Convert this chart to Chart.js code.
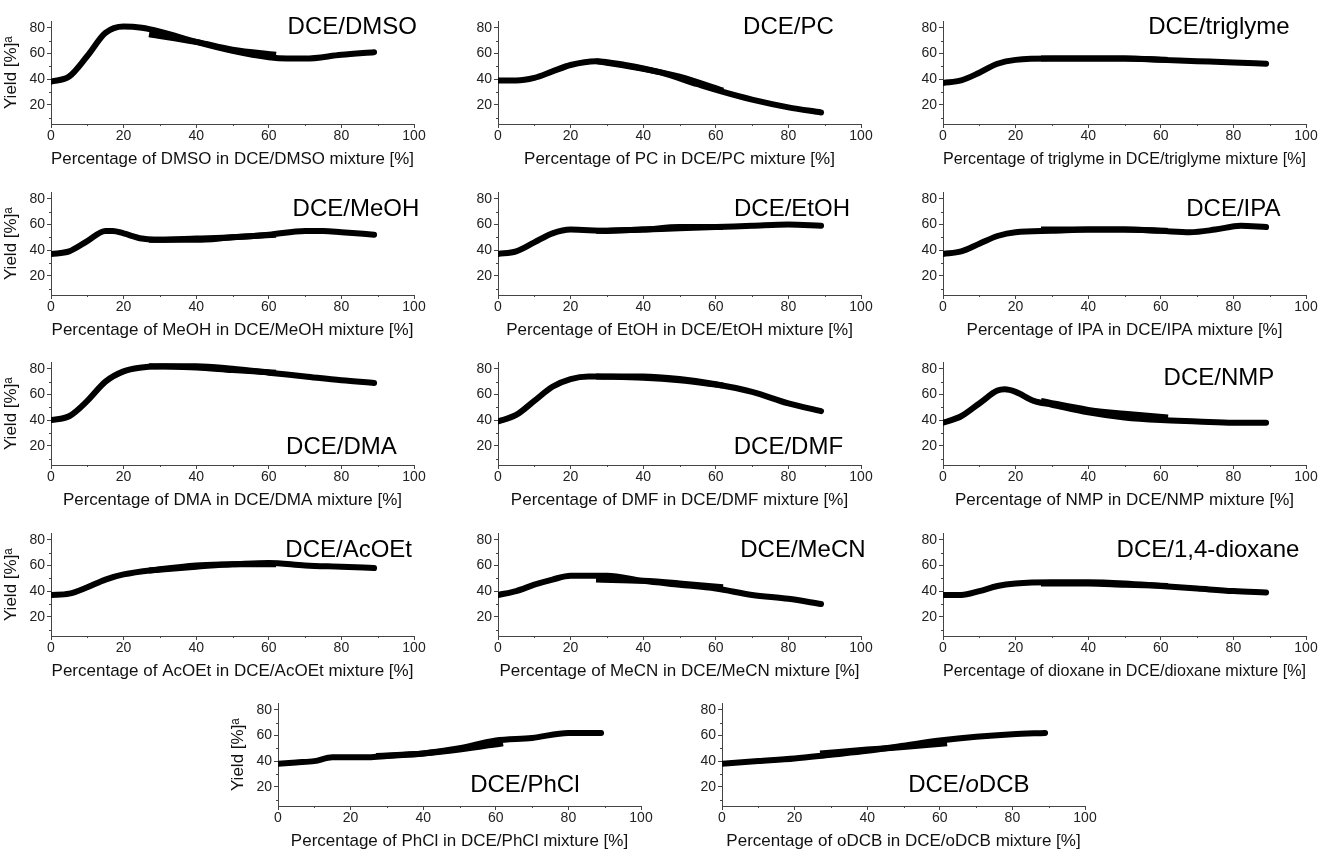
<!DOCTYPE html>
<html><head><meta charset="utf-8">
<script src="https://cdn.jsdelivr.net/npm/chart.js@4"></script>
<style>body{margin:0;background:#fff;width:1322px;height:852px;position:relative;overflow:hidden}
.p{position:absolute}</style></head><body>
<script>
const xTickLabels=[0,20,40,60,80,100];
const yTickLabels=[20,40,60,80];
const solvents=["DMSO","PC","triglyme","MeOH","EtOH","IPA","DMA","DMF","NMP","AcOEt","MeCN","1,4-dioxane","PhCl","oDCB"];
const axisNames=["DMSO","PC","triglyme","MeOH","EtOH","IPA","DMA","DMF","NMP","AcOEt","MeCN","dioxane","PhCl","oDCB"];
const mainX=[
[0,5,10,15,20,25,30,40,50,60,65,70,80,89],
[0,5,10,15,20,27,35,45,55,62,70,80,89],
[0,5,10,15,20,30,40,50,60,70,80,89],
[0,5,10,15,17,20,25,30,40,50,60,70,75,80,89],
[0,5,10,15,20,30,40,50,60,70,80,89],
[0,5,10,15,20,30,40,50,60,68,75,82,89],
[0,5,10,15,20,25,30,40,50,60,70,80,89],
[0,5,10,15,20,25,30,40,50,60,70,80,89],
[0,5,10,15,17,20,25,30,40,50,60,70,80,89],
[0,5,10,15,20,30,40,50,60,70,80,89],
[0,5,10,15,20,30,40,50,60,70,80,89],
[0,5,10,15,20,30,40,50,60,70,80,89],
[0,5,10,15,20,25,30,40,50,60,70,80,89],
[0,10,20,30,40,50,60,70,80,89]];
const mainY=[
[38,42,58,76,81,80,77,69,62,57,56,56,59,61],
[39,39,41,46,51,54,51,45,36,30,24,18,14],
[37,39,45,52,55,56,56,56,55,54,53,52],
[37,39,47,55,55,53,49,48,49,50,52,55,55,54,52],
[37,39,46,53,56,55,56,57,58,59,60,59],
[37,39,45,51,54,55,56,56,55,54,56,59,58],
[40,43,55,70,78,81,82,82,80,77,74,71,69],
[39,44,55,66,72,74,74,74,72,68,62,53,47],
[38,43,53,63,64,62,55,52,46,42,40,39,38,38],
[37,38,43,49,53,57,60,61,62,60,59,58],
[37,40,45,49,52,52,48,45,42,37,34,30],
[37,37,40,44,46,47,47,46,44,42,40,39],
[38,39,40,43,43,43,44,46,50,56,58,62,62],
[38,40,42,45,48,52,56,59,61,62]];
const overX=[27,40,50,62];
const overY=[
[75,69,63,59],[54,48,42,31],[56,56,56,55],[48,48,50,52],[55,56,58,58],[56,56,56,55],
[82,81,79,77],[74,73,71,67],[55,48,45,42],[56,59,61,61],[49,48,46,43],[46,46,45,44],[44,46,49,54],[46,49,51,54]];
const labelPos=[[83,80],[80,80],[76,80],[84,72],[81,72],[80,72],[80,18.5],[80,18.5],[76,72.5],[82,72],[84,72],[73,72],[68,21],[68,21]];
// layout
const colL=[51,498,943];
const rowTop=[17,188,358,529,699];
const PW=363,PH=107,YW=50,XH=50,PT=6,PR=12;
solvents.forEach((s,i)=>{
  let L,T;
  if(i<12){L=colL[i%3];T=rowTop[Math.floor(i/3)];}
  else{L=i==12?278:722;T=rowTop[4];}
  const c=document.createElement('canvas');
  const div=document.createElement('div');div.className='p';
  div.style.left=(L-YW)+'px';div.style.top=(T-PT)+'px';
  div.style.width=(PW+YW+PR)+'px';div.style.height=(PH+XH+PT)+'px';
  div.appendChild(c);document.body.appendChild(div);
  const title='DCE/'+s;
  const xt='Percentage of '+axisNames[i]+' in DCE/'+axisNames[i]+' mixture [%]';
  new Chart(c,{type:'line',
    data:{datasets:[
      {data:mainX[i].map((x,k)=>({x,y:mainY[i][k]})),borderColor:'#000',borderWidth:6,pointRadius:0,cubicInterpolationMode:'monotone',borderCapStyle:'round'},
      {data:overX.map((x,k)=>({x,y:overY[i][k]})),borderColor:'#000',borderWidth:6,pointRadius:0,cubicInterpolationMode:'monotone'}]},
    options:{responsive:true,maintainAspectRatio:false,animation:false,
      layout:{padding:{top:PT,right:PR,left:0,bottom:0}},
      plugins:{legend:{display:false},tooltip:{enabled:false}},
      scales:{
        x:{type:'linear',min:0,max:100,afterFit:a=>{a.height=XH},
          ticks:{stepSize:20,color:'#222',font:{family:'Liberation Sans',size:14},padding:0,maxRotation:0},
          grid:{drawOnChartArea:false,tickLength:4,color:'#444'},border:{color:'#444',width:1},
          title:{display:true,text:xt,color:'#111',font:{family:'Liberation Sans',size:17},padding:{top:4}}},
        y:{min:5,max:85,afterFit:a=>{a.width=YW},
          afterBuildTicks:a=>{a.ticks=yTickLabels.map(v=>({value:v}))},
          ticks:{color:'#222',font:{family:'Liberation Sans',size:14},padding:2},
          grid:{drawOnChartArea:false,tickLength:4,color:'#444'},border:{color:'#444',width:1},
          title:{display:i%3==0||i==12,text:'Yield [%]ᵃ',color:'#111',font:{family:'Liberation Sans',size:17},padding:0}}}},
    plugins:[{id:'extra',afterDraw(ch){
      const g=ch.ctx,xs=ch.scales.x,ys=ch.scales.y;
      g.save();g.strokeStyle='#444';g.lineWidth=1;
      for(let v=10;v<100;v+=20){const px=Math.round(xs.getPixelForValue(v))+0.5;g.beginPath();g.moveTo(px,ys.bottom);g.lineTo(px,ys.bottom+2);g.stroke();}
      for(let v=10;v<=80;v+=20){const py=Math.round(ys.getPixelForValue(v))+0.5;g.beginPath();g.moveTo(xs.left,py);g.lineTo(xs.left-2,py);g.stroke();}
      g.fillStyle='#000';g.textBaseline='middle';
      const cx=xs.getPixelForValue(labelPos[i][0]),cy=ys.getPixelForValue(labelPos[i][1]);
      const F='24px "Liberation Sans"',FI='italic 24px "Liberation Sans"';
      if(s==='oDCB'){
        const parts=[['DCE/',F],['o',FI],['DCB',F]];
        let w=0;parts.forEach(p=>{g.font=p[1];w+=g.measureText(p[0]).width;});
        let x=cx-w/2;g.textAlign='left';
        parts.forEach(p=>{g.font=p[1];g.fillText(p[0],x,cy);x+=g.measureText(p[0]).width;});
      }else{g.font=F;g.textAlign='center';g.fillText(title,cx,cy);}
      g.restore();}}]
  });
});
</script></body></html>
